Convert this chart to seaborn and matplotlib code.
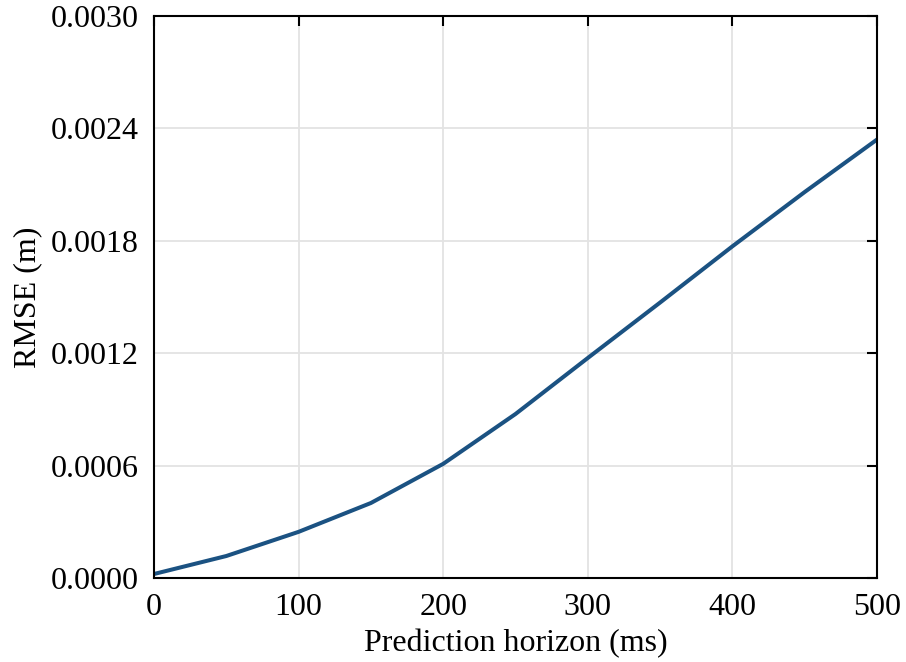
import numpy as np
import pandas as pd
import matplotlib
matplotlib.use('Agg')
import matplotlib.pyplot as plt
import seaborn as sns
from matplotlib.ticker import FormatStrFormatter

# prediction horizon (ms) and RMSE (m)
horizon = [0, 50, 100, 150, 200, 250, 300, 350, 400, 450, 500]
rmse = [0.000021, 0.000117, 0.000246, 0.000400, 0.000609, 0.000875,
        0.001174, 0.001470, 0.001770, 0.002060, 0.002340]

x_ticks = [0, 100, 200, 300, 400, 500]
y_ticks = [0.0, 0.0006, 0.0012, 0.0018, 0.0024, 0.0030]

df = pd.DataFrame({'horizon': horizon, 'rmse': rmse})

sns.set_style('white')
plt.rcParams['font.family'] = ['Liberation Serif', 'DejaVu Serif']
plt.rcParams['text.color'] = 'black'
plt.rcParams['axes.labelcolor'] = 'black'

fig, ax = plt.subplots(figsize=(9.06, 6.62), dpi=100)
fig.subplots_adjust(left=0.17, right=0.968, top=0.976, bottom=0.127)

sns.lineplot(data=df, x='horizon', y='rmse', ax=ax, color='#1b5282', linewidth=2.9)

ax.set_xlim(0, 500)
ax.set_ylim(0, 0.003)
ax.set_xticks(x_ticks)
ax.set_yticks(y_ticks)
ax.yaxis.set_major_formatter(FormatStrFormatter('%.4f'))

ax.grid(True, color='#e3e3e3', linewidth=1.3)
ax.set_axisbelow(True)

for s in ax.spines.values():
    s.set_color('black')
    s.set_linewidth(1.5)

ax.tick_params(direction='in', length=7, width=1.5, top=True, right=True,
               labelsize=23, colors='black')
ax.tick_params(axis='x', pad=11)
ax.tick_params(axis='y', pad=11)

ax.set_xlabel('Prediction horizon (ms)', fontsize=23, labelpad=5, color='black')
ax.set_ylabel('RMSE (m)', fontsize=23, labelpad=6, color='black')

fig.savefig('out.png', dpi=100)
